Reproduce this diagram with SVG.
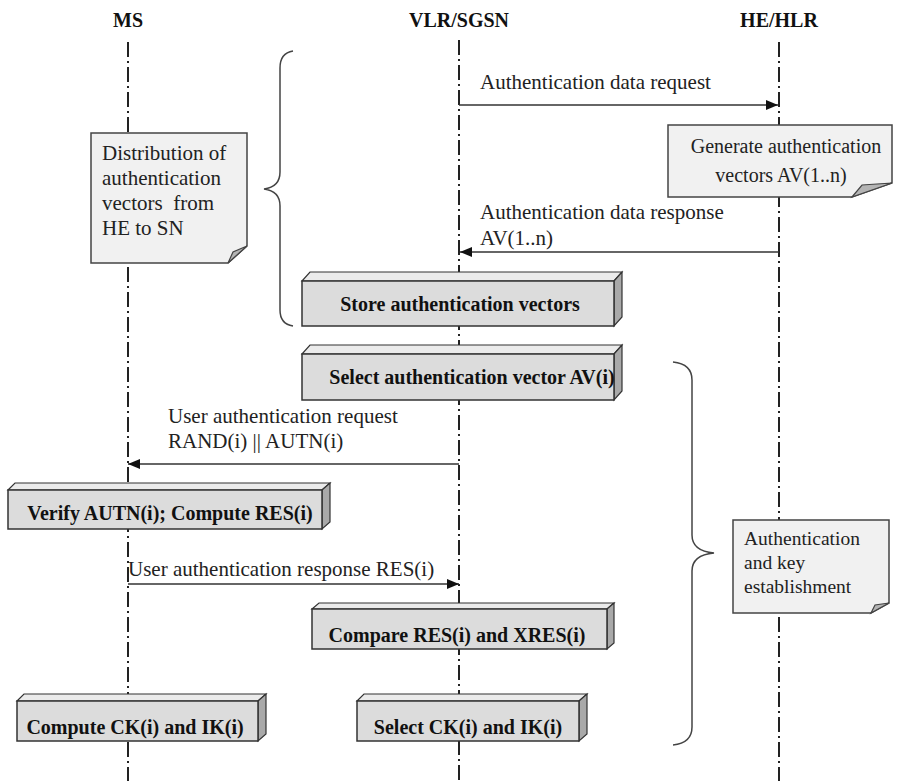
<svg xmlns="http://www.w3.org/2000/svg" width="898" height="781" viewBox="0 0 898 781">
  <style>
    .title { font-family: "Liberation Serif", "Times New Roman", serif; font-weight: bold; font-size: 20px; fill: #111; text-anchor: middle; }
    .msg { font-family: "Liberation Serif", "Times New Roman", serif; font-size: 21px; fill: #222; }
    .note { font-family: "Liberation Serif", "Times New Roman", serif; font-size: 21px; fill: #222; }
    .act { font-family: "Liberation Serif", "Times New Roman", serif; font-weight: bold; font-size: 20px; fill: #111; text-anchor: middle; }
    .life { stroke: #222; stroke-width: 2; stroke-dasharray: 15 4 2 4; fill: none; }
    .arrow { stroke: #333; stroke-width: 1.5; fill: none; marker-end: url(#head); }
    .brace { stroke: #444; stroke-width: 1.5; fill: none; }
    .paper { fill: #f1f1f1; stroke: #444; stroke-width: 1.5; }
    .fold { fill: #b4b4b4; stroke: #444; stroke-width: 1.2; }
    .front { fill: #dcdcdc; stroke: #333; stroke-width: 1.5; }
    .top { fill: #ebebeb; stroke: #333; stroke-width: 1.2; }
    .side { fill: #a9a9a9; stroke: #333; stroke-width: 1.2; }
  </style>
  <defs>
    <marker id="head" viewBox="0 0 12 10" refX="12" refY="5" markerWidth="12" markerHeight="10" markerUnits="userSpaceOnUse" orient="auto">
      <path d="M0,0 L12,5 L0,10 Z" fill="#111"/>
    </marker>
  </defs>

  <rect width="898" height="781" fill="#fff"/>

  <!-- lifelines -->
  <g id="lifelines">
    <text class="title" x="128" y="27">MS</text>
    <text class="title" x="459" y="27">VLR/SGSN</text>
    <text class="title" x="779" y="27">HE/HLR</text>
    <line class="life" x1="128" y1="42" x2="128" y2="781"/>
    <line class="life" x1="459" y1="40" x2="459" y2="781"/>
    <line class="life" x1="779" y1="42" x2="779" y2="781"/>
  </g>

  <!-- grouping braces -->
  <g id="braces">
    <path class="brace" d="M293,51 Q280,53 280,68 L280,172 Q280,187 264,189 Q280,191 280,206 L280,310 Q280,324 293,326"/>
    <path class="brace" d="M673,362 Q692,364 692,380 L692,535 Q692,551 714,553 Q692,555 692,571 L692,727 Q692,743 673,745"/>
  </g>

  <!-- messages -->
  <g id="connectors">
    <line class="arrow" x1="459" y1="105" x2="778" y2="105"/>
    <line class="arrow" x1="779" y1="252" x2="460" y2="252"/>
    <line class="arrow" x1="459" y1="464" x2="128" y2="464"/>
    <line class="arrow" x1="128" y1="584" x2="459" y2="584"/>
    <text class="msg" x="480" y="89">Authentication data request</text>
    <text class="msg" x="480" y="219">Authentication data response</text>
    <text class="msg" x="480" y="245">AV(1..n)</text>
    <text class="msg" x="168" y="423">User authentication request</text>
    <text class="msg" x="168" y="448">RAND(i) || AUTN(i)</text>
    <text class="msg" x="128" y="576">User authentication response RES(i)</text>
  </g>

  <!-- notes -->
  <g id="note-distribution">
    <path class="paper" d="M91,133 H247 V246 L228,263 H91 Z"/>
    <path class="fold" d="M228,263 L233,252 L247,246 Z"/>
    <text class="note" x="102" y="160">Distribution of</text>
    <text class="note" x="102" y="185">authentication</text>
    <text class="note" x="102" y="210" xml:space="preserve">vectors  from</text>
    <text class="note" x="102" y="235">HE to SN</text>
  </g>

  <g id="note-generate">
    <path class="paper" d="M668,125 H892 V183 L852,197 H668 Z"/>
    <path class="fold" d="M852,197 L862,185 L892,183 Z"/>
    <text class="note" x="786" y="153" style="font-size:20px" text-anchor="middle">Generate authentication</text>
    <text class="note" x="781" y="182" style="font-size:20px" text-anchor="middle">vectors AV(1..n)</text>
  </g>

  <g id="note-akey">
    <path class="paper" d="M733,520 H889 V603 L871,613 H733 Z"/>
    <path class="fold" d="M871,613 L875,605 L889,603 Z"/>
    <text class="note" x="744" y="545" style="font-size:19.5px">Authentication</text>
    <text class="note" x="744" y="569" style="font-size:19.5px">and key</text>
    <text class="note" x="744" y="593" style="font-size:19.5px">establishment</text>
  </g>

  <!-- actions -->
  <g id="store-av">
    <path class="top" d="M302,281 L310,272 H622 L614,281 Z"/>
    <path class="side" d="M614,281 L622,272 V317 L614,326 Z"/>
    <rect class="front" x="302" y="281" width="312" height="45"/>
    <text class="act" x="460" y="311">Store authentication vectors</text>
  </g>

  <g id="select-av">
    <path class="top" d="M302,354 L310,345 H622 L614,354 Z"/>
    <path class="side" d="M614,354 L622,345 V391 L614,400 Z"/>
    <rect class="front" x="302" y="354" width="312" height="46"/>
    <text class="act" x="472" y="384">Select authentication vector AV(i)</text>
  </g>

  <g id="verify-autn">
    <path class="top" d="M8,490 L15,483 H330 L322,490 Z"/>
    <path class="side" d="M322,490 L330,483 V522 L322,529 Z"/>
    <rect class="front" x="8" y="490" width="314" height="39"/>
    <text class="act" x="170" y="520">Verify AUTN(i); Compute RES(i)</text>
  </g>

  <g id="compare-res">
    <path class="top" d="M312,609 L319,603 H614 L607,609 Z"/>
    <path class="side" d="M607,609 L614,603 V643 L607,649 Z"/>
    <rect class="front" x="312" y="609" width="295" height="40"/>
    <text class="act" x="457" y="642">Compare RES(i) and XRES(i)</text>
  </g>

  <g id="compute-ck">
    <path class="top" d="M17,701 L24,694 H266 L258,701 Z"/>
    <path class="side" d="M258,701 L266,694 V734 L258,741 Z"/>
    <rect class="front" x="17" y="701" width="241" height="40"/>
    <text class="act" x="135" y="734">Compute CK(i) and IK(i)</text>
  </g>

  <g id="select-ck">
    <path class="top" d="M357,701 L364,694 H587 L579,701 Z"/>
    <path class="side" d="M579,701 L587,694 V734 L579,741 Z"/>
    <rect class="front" x="357" y="701" width="222" height="40"/>
    <text class="act" x="468" y="734">Select CK(i) and IK(i)</text>
  </g>
</svg>
